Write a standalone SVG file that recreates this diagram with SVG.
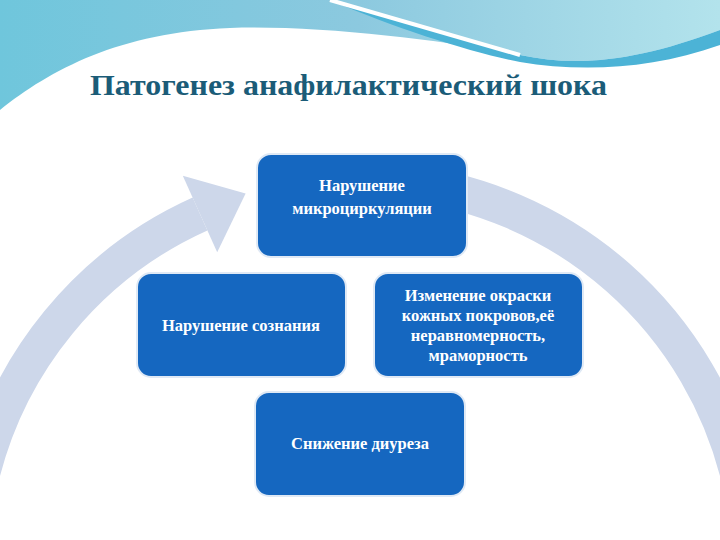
<svg xmlns="http://www.w3.org/2000/svg" width="720" height="540" viewBox="0 0 720 540">
<defs>
<linearGradient id="bg" x1="0" y1="0" x2="1" y2="0"><stop offset="0" stop-color="#6fc6dc"/><stop offset="0.5" stop-color="#8cc9df"/><stop offset="1" stop-color="#b3e3ec"/></linearGradient>
<style>
.box{fill:#1567c0;stroke:#dfe9f5;stroke-width:2}
.t{font-family:"Liberation Serif",serif;font-weight:bold;font-size:16.5px;fill:#fff;text-anchor:middle}
.arc{fill:none;stroke:#cdd7ea;stroke-width:36}
</style>
</defs>
<rect width="720" height="540" fill="#fff"/>
<path d="M0 0H720V30C640 60 580 68 520 55C440 40 320 25 230 28C120 32 50 70 0 110Z" fill="url(#bg)"/>
<path d="M330 0C400 20 470 40 520 55C580 68 640 60 720 30V45C650 70 580 72 520 62C470 52 400 30 330 0Z" fill="#4cb3d6"/>
<path d="M330 0C400 20 470 40 520 55" fill="none" stroke="#fff" stroke-width="4"/>
<text x="90" y="95" textLength="517" lengthAdjust="spacingAndGlyphs" font-family="Liberation Serif,serif" font-weight="bold" font-size="30" fill="#1b5c78">Патогенез анафилактический шока</text>
<g id="connectors">
<path class="arc" d="M-20 482A390 390 0 0 1 200 214"/>
<polygon points="182.8,175.7 245.6,193.5 217.2,252.3" fill="#cdd7ea"/>
<path class="arc" d="M400 182A390 390 0 0 1 740 482"/>
</g>
<g id="n1"><rect class="box" x="257" y="154" width="210" height="103" rx="14"/><text class="t" x="362" y="191">Нарушение</text><text class="t" x="362" y="214">микроциркуляции</text></g>
<g id="n2"><rect class="box" x="137" y="273" width="209" height="104" rx="14"/><text class="t" x="241" y="331">Нарушение сознания</text></g>
<g id="n3"><rect class="box" x="374" y="273" width="209" height="104" rx="14"/><text class="t" x="478" y="301">Изменение окраски</text><text class="t" x="478" y="321">кожных покровов,её</text><text class="t" x="478" y="341">неравномерность,</text><text class="t" x="478" y="361">мраморность</text></g>
<g id="n4"><rect class="box" x="255" y="392" width="210" height="104" rx="14"/><text class="t" x="360" y="449">Снижение диуреза</text></g>
</svg>
